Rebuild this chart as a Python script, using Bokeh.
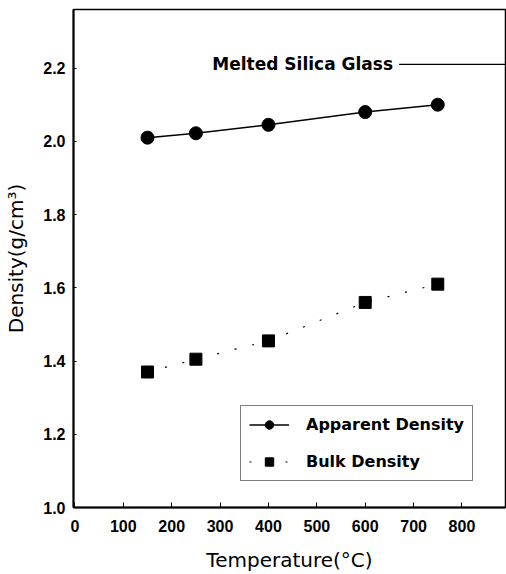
from bokeh.plotting import figure
from bokeh.models import Range1d, Legend, LegendItem, FixedTicker, CustomJSTickFormatter
from bokeh.core.properties import value
from bokeh.embed import file_html
from bokeh.resources import INLINE

# Data
temperature = [150, 250, 400, 600, 750]
apparent_density = [2.01, 2.022, 2.045, 2.08, 2.10]
bulk_density = [1.37, 1.405, 1.455, 1.56, 1.61]
melted_glass_density = 2.21
melted_label = "Melted Silica Glass"
melted_line_x = [670, 890]
x_ticks = [0, 100, 200, 300, 400, 500, 600, 700, 800]
y_ticks = [1.0, 1.2, 1.4, 1.6, 1.8, 2.0, 2.2]

TICK_FONT = "Liberation Sans"
FONT = "DejaVu Sans"

p = figure(width=506, height=574, output_backend="svg", toolbar_location=None,
           x_range=Range1d(-3, 890), y_range=Range1d(1.0, 2.36),
           min_border_left=73, min_border_right=1, min_border_top=9, min_border_bottom=66)
p.background_fill_color = "white"
p.border_fill_color = "white"
p.grid.visible = False
p.outline_line_color = "black"
p.outline_line_width = 1.5

# Axes
p.xaxis.ticker = FixedTicker(ticks=x_ticks)
p.yaxis.ticker = FixedTicker(ticks=y_ticks)
p.yaxis.formatter = CustomJSTickFormatter(code="return tick.toFixed(1);")
for ax in (p.xaxis, p.yaxis):
    ax.axis_line_width = 2
    ax.axis_line_color = "black"
    ax.major_tick_out = 0
    ax.minor_tick_out = 0
    ax.minor_tick_in = 0
    ax.major_label_text_font = TICK_FONT
    ax.major_label_text_font_style = "bold"
    ax.major_label_text_font_size = "16px"
    ax.major_label_text_color = "black"
    ax.axis_label_text_font = FONT
    ax.axis_label_text_font_style = "normal"
    ax.axis_label_text_font_size = "20px"
    ax.axis_label_text_color = "black"
p.xaxis.major_tick_in = 5
p.yaxis.major_tick_in = 3
p.xaxis.major_label_standoff = 12
p.yaxis.major_label_standoff = 8
p.xaxis.axis_label = "Temperature(°C)"
p.yaxis.axis_label = "Density(g/cm³)"
p.xaxis.axis_label_standoff = 13
p.yaxis.axis_label_standoff = 12

# Apparent density
r_a_line = p.line(temperature, apparent_density, line_color="black", line_width=1.5)
r_a_pts = p.scatter(temperature, apparent_density, marker="circle", size=13,
                    fill_color="black", line_color="black")

# Bulk density
r_b_line = p.line(temperature, bulk_density, line_color="black", line_width=1.2,
                  line_dash="2 16")
r_b_pts = p.scatter(temperature, bulk_density, marker="square", size=12,
                    fill_color="black", line_color="black")

# Melted silica glass reference
p.line(melted_line_x, [melted_glass_density] * 2, line_color="black", line_width=1.3)
p.text(x=[284], y=[melted_glass_density], text=[melted_label],
       text_font=value(FONT), text_font_style="bold", text_font_size="17px",
       text_baseline="middle", text_align="left", text_color="black")

legend = Legend(items=[
    LegendItem(label="Apparent Density", renderers=[r_a_line, r_a_pts]),
    LegendItem(label="Bulk Density", renderers=[r_b_line, r_b_pts]),
], location=(167, 26))
legend.label_text_font = FONT
legend.label_text_font_style = "bold"
legend.label_text_font_size = "16px"
legend.label_text_color = "black"
legend.border_line_color = "black"
legend.border_line_width = 1
legend.background_fill_alpha = 1
legend.padding = 8
legend.spacing = 16
legend.glyph_width = 40
legend.glyph_height = 21
legend.label_height = 21
legend.label_standoff = 17
legend.margin = 0
p.add_layout(legend, "center")

open("out.html", "w").write(file_html(p, INLINE))
